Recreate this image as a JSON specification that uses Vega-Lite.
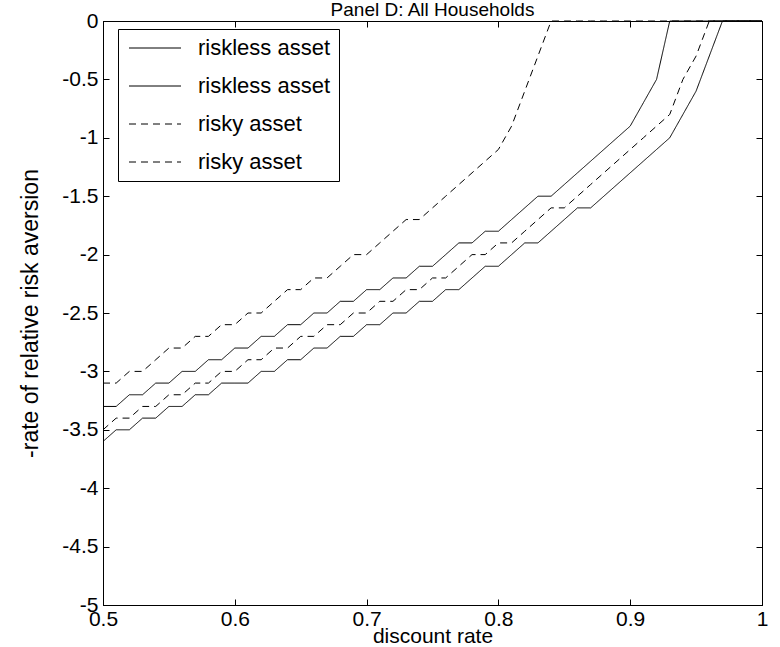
{
  "$schema": "https://vega.github.io/schema/vega-lite/v6.json",
  "width": 659,
  "height": 584,
  "autosize": "none",
  "padding": {"left": 103, "top": 21, "right": 18, "bottom": 42},
  "background": "white",
  "config": {
    "font": "Liberation Sans",
    "view": {"stroke": "black", "strokeWidth": 1},
    "axis": {"labelFont": "Liberation Sans", "titleFont": "Liberation Sans", "labelFontSize": 21, "titleFontSize": 21, "titleFontWeight": "normal", "labelColor": "black", "titleColor": "black", "domainColor": "black", "tickColor": "black", "grid": false, "labelFlush": false}
  },
  "title": {"text": "Panel D: All Households", "fontSize": 19, "fontWeight": "normal", "font": "Liberation Sans", "color": "black", "offset": 0, "dy": 10},
  "data": {"values": [
    {"x": 0.50, "s1": -3.3, "s2": -3.6, "d1": -3.1, "d2": -3.5},
    {"x": 0.51, "s1": -3.3, "s2": -3.5, "d1": -3.1, "d2": -3.4},
    {"x": 0.52, "s1": -3.2, "s2": -3.5, "d1": -3.0, "d2": -3.4},
    {"x": 0.53, "s1": -3.2, "s2": -3.4, "d1": -3.0, "d2": -3.3},
    {"x": 0.54, "s1": -3.1, "s2": -3.4, "d1": -2.9, "d2": -3.3},
    {"x": 0.55, "s1": -3.1, "s2": -3.3, "d1": -2.8, "d2": -3.2},
    {"x": 0.56, "s1": -3.0, "s2": -3.3, "d1": -2.8, "d2": -3.2},
    {"x": 0.57, "s1": -3.0, "s2": -3.2, "d1": -2.7, "d2": -3.1},
    {"x": 0.58, "s1": -2.9, "s2": -3.2, "d1": -2.7, "d2": -3.1},
    {"x": 0.59, "s1": -2.9, "s2": -3.1, "d1": -2.6, "d2": -3.0},
    {"x": 0.60, "s1": -2.8, "s2": -3.1, "d1": -2.6, "d2": -3.0},
    {"x": 0.61, "s1": -2.8, "s2": -3.1, "d1": -2.5, "d2": -2.9},
    {"x": 0.62, "s1": -2.7, "s2": -3.0, "d1": -2.5, "d2": -2.9},
    {"x": 0.63, "s1": -2.7, "s2": -3.0, "d1": -2.4, "d2": -2.8},
    {"x": 0.64, "s1": -2.6, "s2": -2.9, "d1": -2.3, "d2": -2.8},
    {"x": 0.65, "s1": -2.6, "s2": -2.9, "d1": -2.3, "d2": -2.7},
    {"x": 0.66, "s1": -2.5, "s2": -2.8, "d1": -2.2, "d2": -2.7},
    {"x": 0.67, "s1": -2.5, "s2": -2.8, "d1": -2.2, "d2": -2.6},
    {"x": 0.68, "s1": -2.4, "s2": -2.7, "d1": -2.1, "d2": -2.6},
    {"x": 0.69, "s1": -2.4, "s2": -2.7, "d1": -2.0, "d2": -2.5},
    {"x": 0.70, "s1": -2.3, "s2": -2.6, "d1": -2.0, "d2": -2.5},
    {"x": 0.71, "s1": -2.3, "s2": -2.6, "d1": -1.9, "d2": -2.4},
    {"x": 0.72, "s1": -2.2, "s2": -2.5, "d1": -1.8, "d2": -2.4},
    {"x": 0.73, "s1": -2.2, "s2": -2.5, "d1": -1.7, "d2": -2.3},
    {"x": 0.74, "s1": -2.1, "s2": -2.4, "d1": -1.7, "d2": -2.3},
    {"x": 0.75, "s1": -2.1, "s2": -2.4, "d1": -1.6, "d2": -2.2},
    {"x": 0.76, "s1": -2.0, "s2": -2.3, "d1": -1.5, "d2": -2.2},
    {"x": 0.77, "s1": -1.9, "s2": -2.3, "d1": -1.4, "d2": -2.1},
    {"x": 0.78, "s1": -1.9, "s2": -2.2, "d1": -1.3, "d2": -2.0},
    {"x": 0.79, "s1": -1.8, "s2": -2.1, "d1": -1.2, "d2": -2.0},
    {"x": 0.80, "s1": -1.8, "s2": -2.1, "d1": -1.1, "d2": -1.9},
    {"x": 0.81, "s1": -1.7, "s2": -2.0, "d1": -0.9, "d2": -1.9},
    {"x": 0.82, "s1": -1.6, "s2": -1.9, "d1": -0.6, "d2": -1.8},
    {"x": 0.83, "s1": -1.5, "s2": -1.9, "d1": -0.3, "d2": -1.7},
    {"x": 0.84, "s1": -1.5, "s2": -1.8, "d1": 0, "d2": -1.6},
    {"x": 0.85, "s1": -1.4, "s2": -1.7, "d1": 0, "d2": -1.6},
    {"x": 0.86, "s1": -1.3, "s2": -1.6, "d1": 0, "d2": -1.5},
    {"x": 0.87, "s1": -1.2, "s2": -1.6, "d1": 0, "d2": -1.4},
    {"x": 0.88, "s1": -1.1, "s2": -1.5, "d1": 0, "d2": -1.3},
    {"x": 0.89, "s1": -1.0, "s2": -1.4, "d1": 0, "d2": -1.2},
    {"x": 0.90, "s1": -0.9, "s2": -1.3, "d1": 0, "d2": -1.1},
    {"x": 0.91, "s1": -0.7, "s2": -1.2, "d1": 0, "d2": -1.0},
    {"x": 0.92, "s1": -0.5, "s2": -1.1, "d1": 0, "d2": -0.9},
    {"x": 0.93, "s1": 0, "s2": -1.0, "d1": 0, "d2": -0.8},
    {"x": 0.94, "s1": 0, "s2": -0.8, "d1": 0, "d2": -0.5},
    {"x": 0.95, "s1": 0, "s2": -0.6, "d1": 0, "d2": -0.3},
    {"x": 0.96, "s1": 0, "s2": -0.3, "d1": 0, "d2": 0},
    {"x": 0.97, "s1": 0, "s2": 0, "d1": 0, "d2": 0},
    {"x": 0.98, "s1": 0, "s2": 0, "d1": 0, "d2": 0},
    {"x": 0.99, "s1": 0, "s2": 0, "d1": 0, "d2": 0},
    {"x": 1.00, "s1": 0, "s2": 0, "d1": 0, "d2": 0}
  ]},
  "transform": [{"fold": ["s1", "s2", "d1", "d2"], "as": ["series", "value"]}],
  "layer": [
    {
      "mark": {"type": "line", "color": "black", "strokeWidth": 1, "clip": false},
      "encoding": {
        "x": {"field": "x", "type": "quantitative", "scale": {"domain": [0.5, 1], "nice": false, "zero": false},
          "axis": {"values": [0.5, 0.6, 0.7, 0.8, 0.9, 1], "labelExpr": "'' + datum.value", "tickSize": -6, "labelPadding": 9, "title": "discount rate", "titleY": 37, "titleBaseline": "alphabetic"}},
        "y": {"field": "value", "type": "quantitative", "scale": {"domain": [-5, 0], "nice": false, "zero": false},
          "axis": {"values": [-5, -4.5, -4, -3.5, -3, -2.5, -2, -1.5, -1, -0.5, 0], "labelExpr": "'' + datum.value", "tickSize": -6, "labelPadding": 11, "title": "-rate of relative risk aversion", "titleFontSize": 23, "titleX": -73, "titleBaseline": "middle"}},
        "strokeDash": {"field": "series", "type": "nominal",
          "scale": {"domain": ["s1", "s2", "d1", "d2"], "range": [[1, 0], [1, 0], [7, 5], [7, 5]]},
          "legend": {"title": null, "orient": "none", "legendX": 15, "legendY": 8, "symbolType": "M-2.6,0L2.6,0", "symbolSize": 400, "symbolOffset": 18, "symbolStrokeColor": "black", "symbolStrokeWidth": 1, "labelFontSize": 22, "labelFont": "Liberation Sans", "labelColor": "black", "strokeColor": "black", "fillColor": "white", "padding": 8, "rowPadding": 16, "labelOffset": 32,
            "labelExpr": "datum.label == 's1' || datum.label == 's2' ? 'riskless asset' : 'risky asset'"}}
      }
    },
    {
      "mark": {"type": "line", "opacity": 0},
      "encoding": {
        "x": {"field": "x", "type": "quantitative", "axis": {"orient": "top", "values": [0.5, 0.6, 0.7, 0.8, 0.9, 1], "labels": false, "tickSize": -6, "title": null}},
        "y": {"field": "value", "type": "quantitative", "axis": {"orient": "right", "values": [-5, -4.5, -4, -3.5, -3, -2.5, -2, -1.5, -1, -0.5, 0], "labels": false, "tickSize": -6, "title": null}},
        "detail": {"field": "series"}
      }
    }
  ],
  "resolve": {"axis": {"x": "independent", "y": "independent"}}
}
